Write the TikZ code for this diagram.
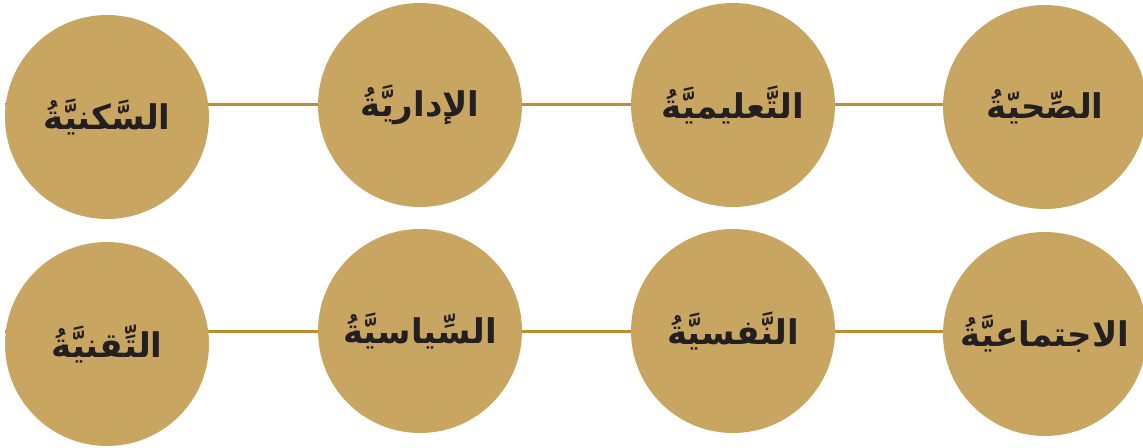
\documentclass[tikz,border=0pt]{standalone}
\usepackage{fontspec}
\newfontfamily\arabicfont[Script=Arabic]{DejaVu Sans}
\TeXXeTstate=1
\usetikzlibrary{backgrounds}
\definecolor{circlegold}{RGB}{200,166,98}
\definecolor{linkgold}{RGB}{188,142,48}
\definecolor{inkdark}{RGB}{35,31,32}
\newcommand{\artext}[1]{\beginR #1\endR}
\tikzset{
  topic/.style={circle,fill=circlegold,minimum size=102pt,inner sep=0pt,
    text=inkdark,font=\arabicfont\bfseries\fontsize{17}{20}\selectfont},
  link/.style={draw=linkgold,line width=1.5pt}
}
\begin{document}
\begin{tikzpicture}[x=0.5pt,y=-0.5pt]
  \useasboundingbox (0,0) rectangle (1143,448);
  % Top row
  \node[topic] (s1) at (107,117) {\artext{السَّكنيَّةُ}};
  \node[topic] (s2) at (420,105) {\artext{الإداريَّةُ}};
  \node[topic] (s3) at (733,105) {\artext{التَّعليميَّةُ}};
  \node[topic] (s4) at (1045,107) {\artext{الصِّحيّةُ}};
  % Bottom row
  \node[topic] (b1) at (107,344) {\artext{التِّقنيَّةُ}};
  \node[topic] (b2) at (420,331) {\artext{السِّياسيَّةُ}};
  \node[topic] (b3) at (733,331) {\artext{النَّفسيَّةُ}};
  \node[topic] (b4) at (1045,334) {\artext{الاجتماعيَّةُ}};
  % Links behind the circles
  \begin{scope}[on background layer]
    \draw[link] (s1.west |- s2) -- (s2) -- (s3) -- (s4 |- s3);
    \draw[link] (b1.west |- b2) -- (b2) -- (b3) -- (b4 |- b3);
  \end{scope}
\end{tikzpicture}
\end{document}
